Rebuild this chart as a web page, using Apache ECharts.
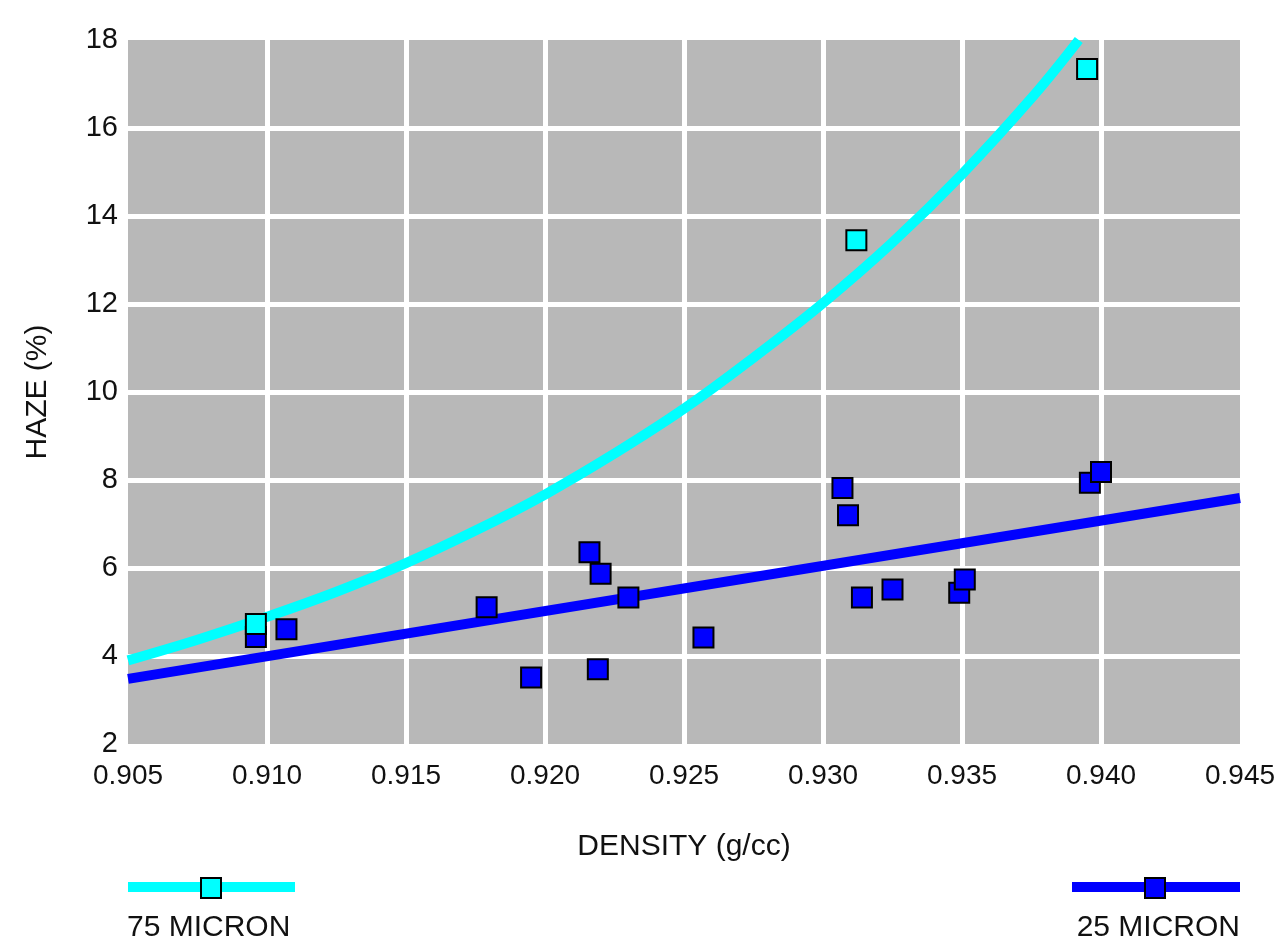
<!DOCTYPE html>
<html>
<head>
<meta charset="utf-8">
<title>Haze vs Density</title>
<script src="https://cdn.jsdelivr.net/npm/echarts@6/dist/echarts.min.js"></script>
<style>
  html, body { margin: 0; padding: 0; background: #ffffff; }
  #chart { width: 1281px; height: 943px; }
</style>
</head>
<body>
<div id="chart"></div>
<script>
// Measured samples: 75 micron film
const density75 = [0.9096, 0.9312, 0.9395];
const haze75 = [4.73, 13.45, 17.34];

// Measured samples: 25 micron film
const density25 = [0.9096, 0.9107, 0.9179, 0.9195, 0.9216, 0.9220, 0.9219, 0.9230,
                   0.9257, 0.9307, 0.9309, 0.9314, 0.9325, 0.9349, 0.9351, 0.9396, 0.9400];
const haze25 = [4.43, 4.61, 5.11, 3.51, 6.36, 5.87, 3.70, 5.33,
                4.42, 7.82, 7.20, 5.33, 5.51, 5.44, 5.74, 7.94, 8.18];

// Trend curve for 75 micron (sampled along the fitted curve)
const trendDensity75 = [0.905, 0.9075, 0.910, 0.9125, 0.915, 0.9175, 0.920, 0.9225,
                        0.925, 0.9275, 0.930, 0.9325, 0.935, 0.9375, 0.9392];
const trendHaze75 = [3.90, 4.37, 4.89, 5.46, 6.11, 6.85, 7.67, 8.60,
                     9.62, 10.78, 12.02, 13.40, 14.95, 16.68, 18.0];

// Trend line for 25 micron
const trendDensity25 = [0.905, 0.945];
const trendHaze25 = [3.48, 7.59];

// Axis ticks
const xTicks = { min: 0.905, max: 0.945, step: 0.005 };
const yTicks = { min: 2, max: 18, step: 2 };

const legendNames = ['75 MICRON', '25 MICRON'];
const colors = { c75: '#00ffff', c25: '#0000ff' };

const FONT = '"Liberation Sans", Arial, Helvetica, sans-serif';

function zip(xs, ys) { return xs.map((x, i) => [x, ys[i]]); }

const chart = echarts.init(document.getElementById('chart'), null, { renderer: 'canvas' });

const markerStyle = (c) => ({ color: c, borderColor: '#000000', borderWidth: 2, opacity: 1 });

chart.setOption({
  backgroundColor: '#ffffff',
  animation: false,
  grid: {
    left: 128, top: 40, width: 1112, height: 704,
    show: true, backgroundColor: '#b8b8b8', borderWidth: 0
  },
  xAxis: {
    type: 'value',
    min: xTicks.min, max: xTicks.max, interval: xTicks.step,
    name: 'DENSITY (g/cc)',
    nameLocation: 'middle',
    nameGap: 88,
    nameTextStyle: { fontFamily: FONT, fontSize: 30, color: '#111111' },
    axisLine: { show: false },
    axisTick: { show: false },
    axisLabel: {
      margin: 18, fontFamily: FONT, fontSize: 28, color: '#111111',
      formatter: (v) => Number(v).toFixed(3)
    },
    splitLine: {
      show: true, showMinLine: false, showMaxLine: false,
      lineStyle: { color: '#ffffff', width: 5 }
    }
  },
  yAxis: {
    type: 'value',
    min: yTicks.min, max: yTicks.max, interval: yTicks.step,
    name: 'HAZE (%)',
    nameLocation: 'middle',
    nameGap: 75,
    nameTextStyle: { fontFamily: FONT, fontSize: 30, color: '#111111' },
    axisLine: { show: false },
    axisTick: { show: false },
    axisLabel: { margin: 10, fontFamily: FONT, fontSize: 29, color: '#111111' },
    splitLine: {
      show: true, showMinLine: false, showMaxLine: false,
      lineStyle: { color: '#ffffff', width: 5 }
    }
  },
  series: [
    {
      name: '25 MICRON trend', type: 'line', data: zip(trendDensity25, trendHaze25),
      showSymbol: false, lineStyle: { color: colors.c25, width: 10 }, z: 2
    },
    {
      name: '75 MICRON trend', type: 'line', data: zip(trendDensity75, trendHaze75),
      showSymbol: false, smooth: 0.4, lineStyle: { color: colors.c75, width: 10 }, z: 2
    },
    {
      name: legendNames[1], type: 'scatter', data: zip(density25, haze25),
      symbol: 'rect', symbolSize: 20, itemStyle: markerStyle(colors.c25), z: 3
    },
    {
      name: legendNames[0], type: 'scatter', data: zip(density75, haze75),
      symbol: 'rect', symbolSize: 20, itemStyle: markerStyle(colors.c75), z: 4
    }
  ],
  graphic: [
    // 75 MICRON key
    { type: 'rect', shape: { x: 128, y: 882, width: 167, height: 10 }, style: { fill: colors.c75 } },
    { type: 'rect', shape: { x: 201, y: 878, width: 20, height: 20 },
      style: { fill: colors.c75, stroke: '#000000', lineWidth: 2 } },
    { type: 'text', left: 127, top: 913,
      style: { text: legendNames[0], font: '30px ' + FONT, fill: '#111111' } },
    // 25 MICRON key
    { type: 'rect', shape: { x: 1072, y: 882, width: 168, height: 10 }, style: { fill: colors.c25 } },
    { type: 'rect', shape: { x: 1145, y: 878, width: 20, height: 20 },
      style: { fill: colors.c25, stroke: '#000000', lineWidth: 2 } },
    { type: 'text', right: 41, top: 913,
      style: { text: legendNames[1], font: '30px ' + FONT, fill: '#111111' } }
  ]
});
</script>
</body>
</html>
